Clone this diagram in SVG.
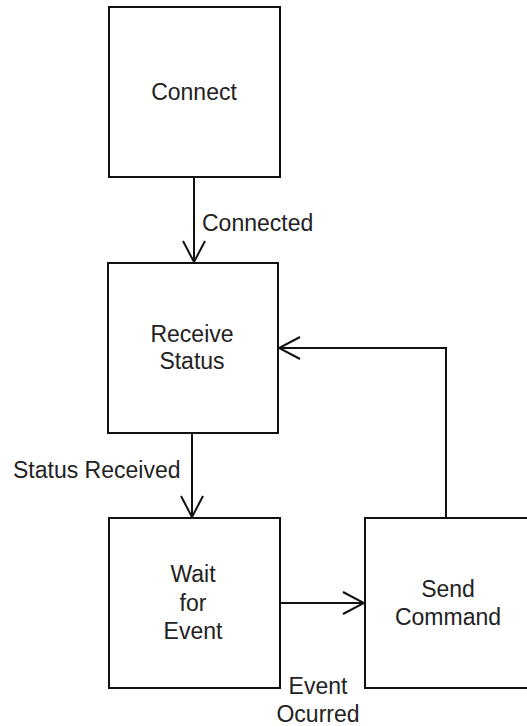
<svg xmlns="http://www.w3.org/2000/svg" width="527" height="726" viewBox="0 0 527 726">
<style>
.box{fill:#fff;stroke:#111;stroke-width:2}
.t{font-family:"Liberation Sans",Arial,sans-serif;font-size:23px;fill:#222}
.c{text-anchor:middle}
.ln{fill:none;stroke:#111;stroke-width:2}
</style>
<defs>
<marker id="ah" viewBox="0 0 24 24" refX="22" refY="12" markerWidth="24" markerHeight="24" markerUnits="userSpaceOnUse" orient="auto">
<path d="M1,1 L22,12 L1,23" fill="none" stroke="#111" stroke-width="2"/>
</marker>
</defs>
<rect width="527" height="726" fill="#fff"/>
<g id="connectors">
<line class="ln" x1="194" y1="177" x2="194" y2="262" marker-end="url(#ah)"/>
<line class="ln" x1="192" y1="433" x2="192" y2="517" marker-end="url(#ah)"/>
<line class="ln" x1="280" y1="603" x2="364" y2="603" marker-end="url(#ah)"/>
<polyline class="ln" points="446,518 446,348 279,348" marker-end="url(#ah)"/>
<text class="t" x="202" y="231">Connected</text>
<text class="t" x="13" y="478">Status Received</text>
<text class="t c" x="318" y="694">Event</text>
<text class="t c" x="318" y="722">Ocurred</text>
</g>
<g id="connect">
<rect class="box" x="109" y="7" width="171" height="170"/>
<text class="t c" x="194" y="100">Connect</text>
</g>
<g id="receive-status">
<rect class="box" x="108" y="263" width="170" height="170"/>
<text class="t c" x="192" y="342">Receive</text>
<text class="t c" x="192" y="369">Status</text>
</g>
<g id="wait-for-event">
<rect class="box" x="109" y="518" width="171" height="170"/>
<text class="t c" x="193" y="582">Wait</text>
<text class="t c" x="193" y="611">for</text>
<text class="t c" x="193" y="639">Event</text>
</g>
<g id="send-command">
<rect class="box" x="365" y="518" width="180" height="170"/>
<text class="t c" x="448" y="597">Send</text>
<text class="t c" x="448" y="625">Command</text>
</g>
</svg>
